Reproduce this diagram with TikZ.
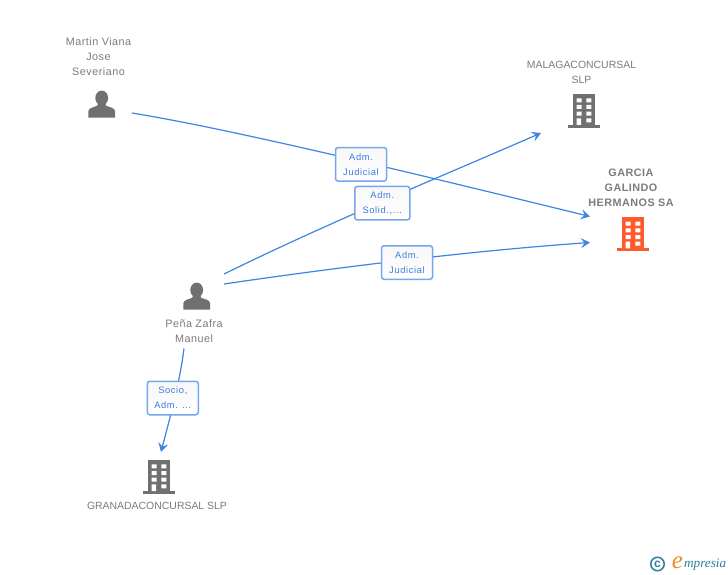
\documentclass[tikz,border=0pt]{standalone}
\usepackage{fontspec}
\setmainfont{Liberation Sans}
\newfontfamily\spacedfont[LetterSpace=7]{Liberation Sans}
\newfontfamily\captionfont[LetterSpace=4.6]{Liberation Sans}
\newfontfamily\logofont{Liberation Serif}
\usetikzlibrary{arrows.meta,calc}
\definecolor{linkblue}{HTML}{3F84E5}
\definecolor{boxblue}{HTML}{76A6EC}
\definecolor{labelblue}{HTML}{3A7BDD}
\definecolor{icongray}{HTML}{707070}
\definecolor{textgray}{HTML}{7C7C7C}
\definecolor{hotorange}{HTML}{FF5A2B}
\definecolor{logoteal}{HTML}{2F7F9B}
\definecolor{logoorange}{HTML}{F28A1E}
\tikzset{
  x=1pt,y=-1pt,
  edge/.style={draw=linkblue,line width=1.2pt,-{Stealth[length=9pt,width=10pt,inset=3.5pt]}},
  relbox/.style={draw=boxblue,line width=1.5pt,rounded corners=2.5pt,top color=black!3,bottom color=white,
    minimum width=51pt,minimum height=33.5pt,inner sep=0pt,align=center,text=labelblue,
    font=\spacedfont\fontsize{9.3}{15}\selectfont},
  caption/.style={text=textgray,align=center,inner sep=0pt,font=\captionfont\fontsize{10.8}{15}\selectfont},
  capscaption/.style={text=textgray,align=center,inner sep=0pt,font=\fontsize{10.45}{15}\selectfont},
  boldcaption/.style={caption,font=\captionfont\fontsize{10.8}{15}\selectfont\bfseries},
  anchorbox/.style={inner sep=0pt,minimum size=27pt},
  person/.pic={
    \fill[icongray] (0,-6.3) ellipse[x radius=6.4,y radius=7.4];
    \fill[icongray] (-13.3,13.3) -- (-13.3,7) .. controls (-13.3,3.5) and (-8,3) .. (-4.5,1.5)
      -- (-3.5,-1) -- (3.5,-1) -- (4.5,1.5) .. controls (8,3) and (13.3,3.5) .. (13.3,7) -- (13.3,13.3) -- cycle;
  },
  tower/.pic={
    \fill[pic actions] (-11,-16) rectangle (11.3,15);
    \fill[pic actions] (-16,15) rectangle (16,17.6);
    \fill[white] (-7.3,-11.7) rectangle (-2.3,-7.7)
      (2.3,-11.7) rectangle (7.3,-7.7)
      (-7.3,-5) rectangle (-2.3,-1)
      (2.3,-5) rectangle (7.3,-1)
      (-7.3,1.7) rectangle (-2.3,5.7)
      (2.3,1.7) rectangle (7.3,5.7)
      (-7.3,8.3) rectangle (-2.8,15)
      (2.3,8.3) rectangle (7.3,12.3);
  }
}
\begin{document}
\begin{tikzpicture}
\useasboundingbox[fill=white] (0,0) rectangle (728,575);

% icons
\node[anchorbox] (martin) at (101.7,104.3) {};
\pic at (martin) {person};
\node[anchorbox] (pena) at (196.7,296.3) {};
\pic at (pena) {person};
\node[anchorbox] (malaga) at (584,110) {};
\pic[fill=icongray] at (malaga) {tower};
\node[anchorbox] (garcia) at (633,233.3) {};
\pic[fill=hotorange] at (garcia) {tower};
\node[anchorbox] (granada) at (159,476) {};
\pic[fill=icongray] at (granada) {tower};

% captions
\node[caption] (martinText) at (98.5,57) {Martin Viana\\Jose\\Severiano};
\node[capscaption] (malagaText) at (581.5,72.8) {MALAGACONCURSAL\\SLP};
\node[boldcaption] (garciaText) at (631,187.8) {GARCIA\\GALINDO\\HERMANOS SA};
\node[caption] (penaText) at (194,331) {Pe\~na Zafra\\Manuel};
\node[capscaption] (granadaText) at (157,506.3) {GRANADACONCURSAL SLP};

% connector ends
\coordinate (martinOut) at (132,113);
\coordinate (garciaInA) at (590,216.5);
\coordinate (penaOutA) at (224,274);
\coordinate (malagaIn) at (541,133);
\coordinate (penaOutB) at (224,284);
\coordinate (garciaInB) at (590,242.5);
\coordinate (penaOutC) at (184,348.5);
\coordinate (granadaIn) at (161,452);

% connectors
\draw[edge] (martinOut) .. controls (230,129) and (400,170) .. (garciaInA);
\draw[edge] (penaOutA) .. controls (330,222) and (440,177) .. (malagaIn);
\draw[edge] (penaOutB) .. controls (340,267) and (470,251) .. (garciaInB);
\draw[edge] (penaOutC) .. controls (180,380) and (172,410) .. (granadaIn);

% relation labels
\node[relbox] (relA) at (361,164.3) {Adm.\\Judicial};
\node[relbox,minimum width=55pt] (relB) at (382.3,203.2) {Adm.\\Solid.,...};
\node[relbox] (relC) at (407,262.5) {Adm.\\Judicial};
\node[relbox] (relD) at (172.8,398) {Socio,\\Adm. ...};

% logo
\node[draw=logoteal,line width=1.5pt,circle,inner sep=0pt,minimum size=13.5pt,text=logoteal,
  font=\fontsize{12}{12}\selectfont\bfseries] (logoC) at (657.5,564) {c};
\node[text=logoorange,inner sep=0pt,font=\logofont\itshape\fontsize{25}{25}\selectfont] (logoE) at (677.5,563) {e};
\node[text=logoteal,inner sep=0pt,anchor=west,font=\logofont\itshape\fontsize{13.2}{14}\selectfont] (logoRest) at (684,565) {mpresia};
\end{tikzpicture}
\end{document}
